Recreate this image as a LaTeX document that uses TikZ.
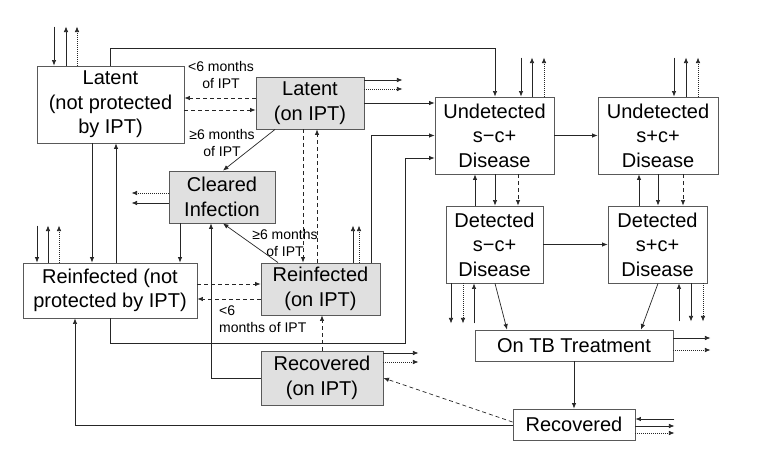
\documentclass[tikz,border=0pt]{standalone}
\usepackage{fontspec}
\setmainfont{Liberation Sans}
\usetikzlibrary{arrows.meta}
\begin{document}
\begin{tikzpicture}[x=1pt,y=-1pt,
  box/.style={draw=black!65,line width=0.9pt,fill=white,inner sep=0pt,align=center,font=\fontsize{20}{24.5}\selectfont},
  ipt/.style={box,fill=black!12},
  arr/.style={draw=black!85,line width=0.7pt,-{Latex[length=5.5pt,width=4.5pt]}},
  dsh/.style={dash pattern=on 4pt off 3pt},
  dot/.style={dash pattern=on 1pt off 1pt},
  lbl/.style={font=\fontsize{14}{17}\selectfont,align=center,inner sep=0pt}]
\useasboundingbox[fill=white] (0,0) rectangle (770,462);
% boxes
\node[box,minimum width=147pt,minimum height=77pt] (lnp) at (110.5,104.5) {Latent\\(not protected\\by IPT)};
\node[ipt,minimum width=108pt,minimum height=52pt] (lipt) at (310,103) {Latent\\(on IPT)};
\node[ipt,minimum width=106pt,minimum height=52pt] (clr) at (222,197) {Cleared\\Infection};
\node[box,minimum width=174pt,minimum height=55pt] (rnp) at (110,290.5) {Reinfected (not\\protected by IPT)};
\node[ipt,minimum width=119pt,minimum height=52pt] (ript) at (320.5,289) {Reinfected\\(on IPT)};
\node[ipt,minimum width=122pt,minimum height=54pt] (roipt) at (322,378) {Recovered\\(on IPT)};
\node[box,minimum width=119pt,minimum height=77pt] (und1) at (494.5,135.5) {Undetected\\s−c+\\Disease};
\node[box,minimum width=120pt,minimum height=77pt] (und2) at (658,135.5) {Undetected\\s+c+\\Disease};
\node[box,minimum width=97pt,minimum height=77pt] (det1) at (494.5,244.5) {Detected\\s−c+\\Disease};
\node[box,minimum width=99pt,minimum height=77pt] (det2) at (657.5,244.5) {Detected\\s+c+\\Disease};
\node[box,minimum width=198pt,minimum height=31pt] (tbt) at (574,345.5) {On TB Treatment};
\node[box,minimum width=122pt,minimum height=31pt] (rec) at (574,424.5) {Recovered};
% labels
\node[lbl] (l1) at (221,75) {<6 months\\of IPT};
\node[lbl] (l2) at (222,143) {≥6 months\\of IPT};
\node[lbl] (l3) at (285,243) {≥6 months\\of IPT};
\node[lbl,align=left,anchor=west] (l4) at (219,319.5) {<6\\months of IPT};
% Latent (not protected)
\draw[arr] (lnp.north -| 54,0) ++(0,-39) -- ++(0,39);
\draw[arr] (lnp.north -| 66,0) -- ++(0,-39);
\draw[arr,dot] (lnp.north -| 77,0) -- ++(0,-39);
\draw[arr] (lnp.north -| 110,0) -- ++(0,-17) -| (und1.north -| 495,0);
% Latent (on IPT)
\draw[arr] (lipt.east |- 0,80) -- ++(38,0);
\draw[arr,dot] (lipt.east |- 0,89) -- ++(38,0);
\draw[arr] (lipt.east) -- (lipt.east -| und1.west);
\draw[arr,dsh] (lipt.west |- 0,98) -- (lnp.east |- 0,98);
\draw[arr,dsh] (lnp.east |- 0,110) -- (lipt.west |- 0,110);
\draw[arr] (lipt.south -| 275,0) -- (clr.north -| 223,0);
\draw[arr,dsh] (lipt.south -| 303,0) -- (ript.north -| 303,0);
\draw[arr,dsh] (ript.north -| 317,0) -- (lipt.south -| 317,0);
% Cleared infection
\draw[arr,dot] (clr.west |- 0,193) -- ++(-37,0);
\draw[arr] (clr.west |- 0,203) -- ++(-37,0);
\draw[arr] (clr.south -| 180,0) -- (rnp.north -| 180,0);
\draw[arr] (roipt.west) -| (clr.south -| 211,0);
\draw[arr] (ript.north -| 278,0) -- (clr.south -| 223,0);
% Latent <-> Reinfected (not protected)
\draw[arr] (lnp.south -| 92,0) -- (rnp.north -| 92,0);
\draw[arr] (rnp.north -| 116,0) -- (lnp.south -| 116,0);
% Reinfected (not protected)
\draw[arr] (rnp.north -| 37,0) ++(0,-37) -- ++(0,37);
\draw[arr] (rnp.north -| 48,0) -- ++(0,-37);
\draw[arr,dot] (rnp.north -| 59,0) -- ++(0,-37);
\draw[arr,dsh] (rnp.east |- 0,284) -- (ript.west |- 0,284);
\draw[arr,dsh] (ript.west |- 0,299) -- (rnp.east |- 0,299);
\draw[arr] (rnp.south -| 110,0) |- (405,343) |- (und1.west |- 0,158);
% Reinfected (on IPT)
\draw[arr] (ript.north -| 353,0) -- ++(0,-37);
\draw[arr,dot] (ript.north -| 359,0) -- ++(0,-37);
\draw[arr] (ript.north -| 371,0) |- (und1.west);
% Recovered (on IPT)
\draw[arr,dsh] (roipt.north -| 322,0) -- (ript.south -| 322,0);
\draw[arr] (roipt.east |- 0,353) -- ++(35,0);
\draw[arr,dot] (roipt.east |- 0,362) -- ++(35,0);
% Recovered
\draw[arr,dsh] (rec.west |- 0,422) -- (roipt.east |- 0,378);
\draw[arr] (rec.west |- 0,425) -| (rnp.south -| 75,0);
\draw[arr] (rec.east |- 0,419) ++(39,0) -- ++(-39,0);
\draw[arr] (rec.east |- 0,426) -- ++(39,0);
\draw[arr,dot] (rec.east |- 0,433) -- ++(39,0);
% On TB treatment
\draw[arr] (tbt.south) -- (rec.north);
\draw[arr] (tbt.east |- 0,338) -- ++(37,0);
\draw[arr,dot] (tbt.east |- 0,350) -- ++(37,0);
\draw[arr] (det1.south -| 495,0) -- (tbt.north -| 507,0);
\draw[arr] (det2.south -| 658,0) -- (tbt.north -| 641,0);
% Detected bottoms
\draw[arr] (det1.south -| 451,0) -- ++(0,40);
\draw[arr,dot] (det1.south -| 463,0) -- ++(0,40);
\draw[arr] (det1.south -| 474,0) ++(0,40) -- ++(0,-40);
\draw[arr] (det2.south -| 679,0) ++(0,38) -- ++(0,-38);
\draw[arr] (det2.south -| 691,0) -- ++(0,38);
\draw[arr,dot] (det2.south -| 703,0) -- ++(0,38);
% Undetected <-> Detected
\draw[arr] (det1.north -| 475,0) -- (und1.south -| 475,0);
\draw[arr] (und1.south -| 495,0) -- (det1.north -| 495,0);
\draw[arr,dsh] (und1.south -| 518,0) -- (det1.north -| 518,0);
\draw[arr] (det2.north -| 639,0) -- (und2.south -| 639,0);
\draw[arr] (und2.south -| 658,0) -- (det2.north -| 658,0);
\draw[arr,dsh] (und2.south -| 683,0) -- (det2.north -| 683,0);
\draw[arr] (und1.east) -- (und2.west);
\draw[arr] (det1.east) -- (det2.west);
% Undetected tops
\draw[arr] (und1.north -| 521,0) ++(0,-39) -- ++(0,39);
\draw[arr] (und1.north -| 532,0) -- ++(0,-39);
\draw[arr,dot] (und1.north -| 544,0) -- ++(0,-39);
\draw[arr] (und2.north -| 674,0) ++(0,-39) -- ++(0,39);
\draw[arr] (und2.north -| 686,0) -- ++(0,-39);
\draw[arr,dot] (und2.north -| 698,0) -- ++(0,-39);
\end{tikzpicture}
\end{document}
